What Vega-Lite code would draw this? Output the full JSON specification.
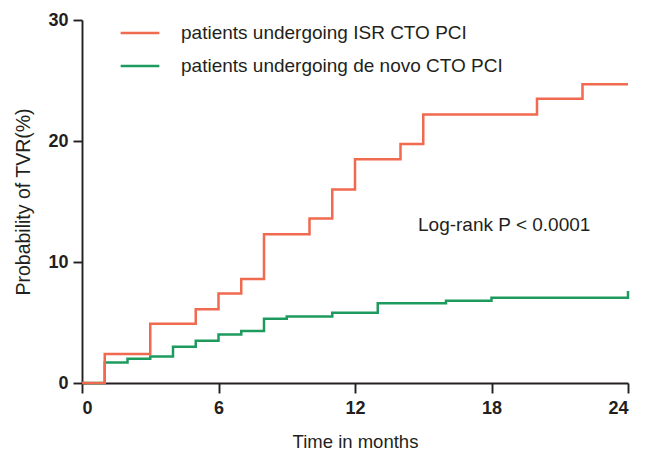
{
  "$schema": "https://vega.github.io/schema/vega-lite/v6.json",
  "autosize": "none",
  "width": 546,
  "height": 363,
  "padding": {"left": 82, "top": 20, "right": 21, "bottom": 70},
  "background": "white",
  "config": {
    "view": {"stroke": null},
    "font": "Liberation Sans",
    "axis": {
      "grid": false,
      "domainColor": "#231F20",
      "domainWidth": 1.9,
      "tickColor": "#231F20",
      "tickWidth": 1.9,
      "labelFont": "Liberation Sans",
      "labelFontWeight": "bold",
      "labelFontSize": 18,
      "labelColor": "#231F20",
      "titleFont": "Liberation Sans",
      "titleFontWeight": "normal",
      "titleFontSize": 18.5,
      "titleColor": "#231F20"
    }
  },
  "datasets": {
    "km": [
      {"group": "patients undergoing ISR CTO PCI", "month": 0, "tvr": 0},
      {"group": "patients undergoing ISR CTO PCI", "month": 1, "tvr": 2.4},
      {"group": "patients undergoing ISR CTO PCI", "month": 3, "tvr": 4.9},
      {"group": "patients undergoing ISR CTO PCI", "month": 5, "tvr": 6.1},
      {"group": "patients undergoing ISR CTO PCI", "month": 6, "tvr": 7.4},
      {"group": "patients undergoing ISR CTO PCI", "month": 7, "tvr": 8.6},
      {"group": "patients undergoing ISR CTO PCI", "month": 8, "tvr": 12.3},
      {"group": "patients undergoing ISR CTO PCI", "month": 10, "tvr": 13.6},
      {"group": "patients undergoing ISR CTO PCI", "month": 11, "tvr": 16.0},
      {"group": "patients undergoing ISR CTO PCI", "month": 12, "tvr": 18.5},
      {"group": "patients undergoing ISR CTO PCI", "month": 14, "tvr": 19.75},
      {"group": "patients undergoing ISR CTO PCI", "month": 15, "tvr": 22.2},
      {"group": "patients undergoing ISR CTO PCI", "month": 20, "tvr": 23.5},
      {"group": "patients undergoing ISR CTO PCI", "month": 22, "tvr": 24.7},
      {"group": "patients undergoing ISR CTO PCI", "month": 24, "tvr": 24.7},
      {"group": "patients undergoing de novo CTO PCI", "month": 0, "tvr": 0},
      {"group": "patients undergoing de novo CTO PCI", "month": 1, "tvr": 1.7},
      {"group": "patients undergoing de novo CTO PCI", "month": 2, "tvr": 2.0},
      {"group": "patients undergoing de novo CTO PCI", "month": 3, "tvr": 2.2},
      {"group": "patients undergoing de novo CTO PCI", "month": 4, "tvr": 3.0},
      {"group": "patients undergoing de novo CTO PCI", "month": 5, "tvr": 3.5},
      {"group": "patients undergoing de novo CTO PCI", "month": 6, "tvr": 4.0},
      {"group": "patients undergoing de novo CTO PCI", "month": 7, "tvr": 4.3},
      {"group": "patients undergoing de novo CTO PCI", "month": 8, "tvr": 5.3},
      {"group": "patients undergoing de novo CTO PCI", "month": 9, "tvr": 5.5},
      {"group": "patients undergoing de novo CTO PCI", "month": 11, "tvr": 5.8},
      {"group": "patients undergoing de novo CTO PCI", "month": 13, "tvr": 6.6},
      {"group": "patients undergoing de novo CTO PCI", "month": 16, "tvr": 6.8},
      {"group": "patients undergoing de novo CTO PCI", "month": 18, "tvr": 7.05},
      {"group": "patients undergoing de novo CTO PCI", "month": 24, "tvr": 7.6}
    ],
    "note": [
      {"label": "Log-rank P < 0.0001", "month": 14.77, "tvr": 13.05}
    ]
  },
  "layer": [
    {
      "data": {"name": "km"},
      "transform": [{"filter": "datum.group === 'patients undergoing de novo CTO PCI'"}],
      "mark": {"type": "line", "interpolate": "step-after", "strokeWidth": 2.5},
      "encoding": {
        "x": {
          "field": "month", "type": "quantitative",
          "scale": {"domain": [0, 24], "nice": false, "zero": false},
          "axis": {"values": [0, 6, 12, 18, 24], "title": "Time in months", "tickSize": 10, "labelPadding": 6, "titlePadding": 15}
        },
        "y": {
          "field": "tvr", "type": "quantitative",
          "scale": {"domain": [0, 30], "nice": false},
          "axis": {"values": [0, 10, 20, 30], "title": "Probability of TVR(%)", "titleFontSize": 19.5, "tickSize": 9, "labelPadding": 5, "titlePadding": 14}
        },
        "color": {
          "field": "group", "type": "nominal",
          "scale": {
            "domain": ["patients undergoing ISR CTO PCI", "patients undergoing de novo CTO PCI"],
            "range": ["#EF6A4E", "#1F9A5E"]
          },
          "legend": {
            "title": null,
            "orient": "none",
            "legendX": 37,
            "legendY": -8,
            "padding": 0,
            "symbolType": "stroke",
            "symbolSize": 1500,
            "symbolStrokeWidth": 2.5,
            "labelFont": "Liberation Sans",
            "labelFontSize": 19,
            "labelColor": "#231F20",
            "labelOffset": 20,
            "rowPadding": 2,
            "labelLimit": 500
          }
        }
      }
    },
    {
      "data": {"name": "km"},
      "transform": [{"filter": "datum.group === 'patients undergoing ISR CTO PCI'"}],
      "mark": {"type": "line", "interpolate": "step-after", "strokeWidth": 2.5},
      "encoding": {
        "x": {"field": "month", "type": "quantitative"},
        "y": {"field": "tvr", "type": "quantitative"},
        "color": {"field": "group", "type": "nominal"}
      }
    },
    {
      "data": {"name": "note"},
      "mark": {"type": "text", "align": "left", "baseline": "middle", "font": "Liberation Sans", "fontSize": 19, "color": "#231F20"},
      "encoding": {
        "x": {"field": "month", "type": "quantitative"},
        "y": {"field": "tvr", "type": "quantitative"},
        "text": {"field": "label"}
      }
    }
  ]
}
